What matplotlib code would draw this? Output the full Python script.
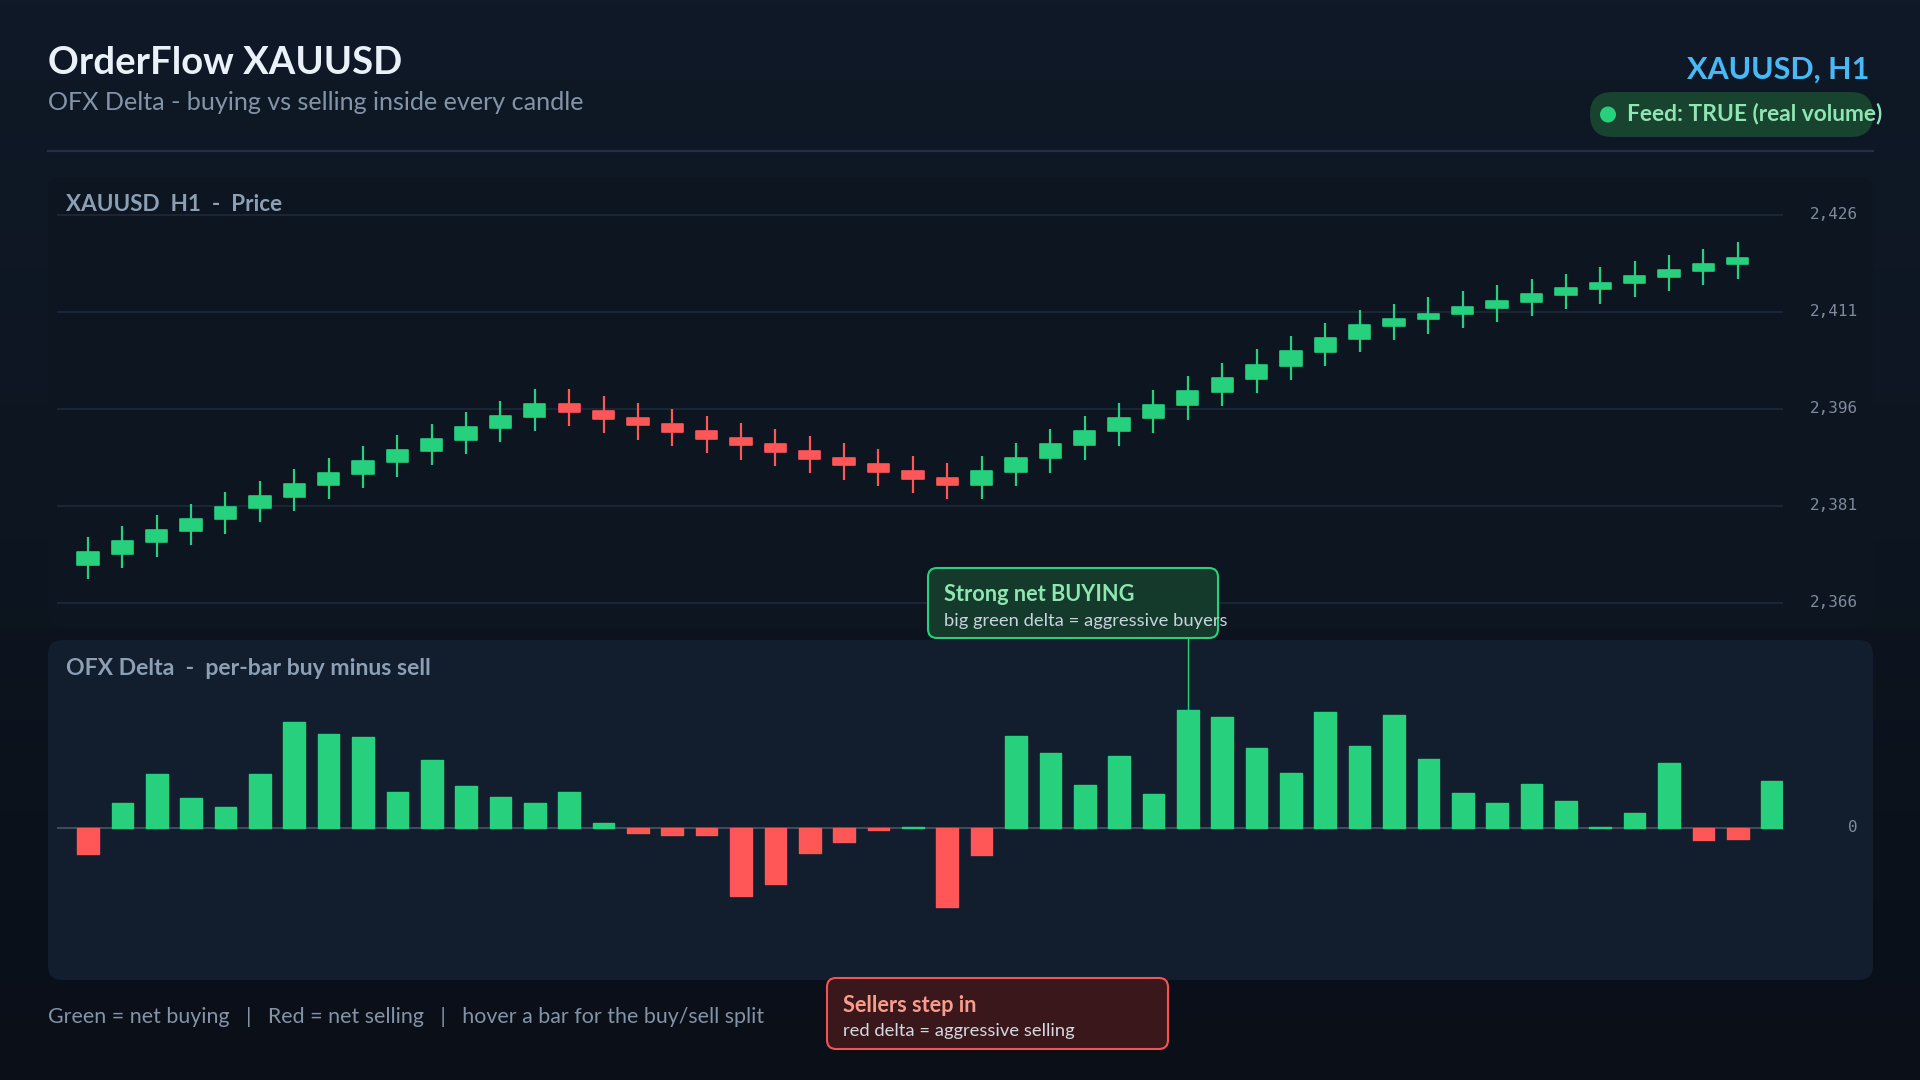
import matplotlib
matplotlib.use('Agg')
import matplotlib.pyplot as plt
from matplotlib.patches import FancyBboxPatch, Circle
from matplotlib.colors import LinearSegmentedColormap
from matplotlib.transforms import ScaledTranslation
import numpy as np

W, H = 1920, 1080
plt.rcParams['font.family'] = ['Lato', 'DejaVu Sans']

# ---------------- data ----------------
symbol = 'XAUUSD'
timeframe = 'H1'
opens = [2372.0, 2373.7, 2375.5, 2377.2, 2379.0, 2380.7, 2382.4, 2384.3, 2386.0, 2387.9,
         2389.6, 2391.3, 2393.1, 2394.8, 2396.8, 2395.7, 2394.7, 2393.7, 2392.6, 2391.6,
         2390.6, 2389.6, 2388.5, 2387.6, 2386.5, 2385.4, 2384.3, 2386.3, 2388.5, 2390.5,
         2392.6, 2394.6, 2396.7, 2398.7, 2400.7, 2402.7, 2404.9, 2406.9, 2408.9, 2409.9,
         2410.8, 2411.7, 2412.6, 2413.7, 2414.6, 2415.6, 2416.5, 2417.4, 2418.4]
closes = [2373.9, 2375.6, 2377.4, 2379.1, 2380.9, 2382.6, 2384.5, 2386.2, 2388.0, 2389.7,
          2391.4, 2393.3, 2395.0, 2396.8, 2395.6, 2394.5, 2393.6, 2392.5, 2391.4, 2390.5,
          2389.4, 2388.3, 2387.4, 2386.3, 2385.2, 2384.3, 2386.5, 2388.5, 2390.6, 2392.6,
          2394.7, 2396.7, 2398.8, 2400.8, 2402.8, 2405.0, 2407.0, 2409.0, 2409.9, 2410.8,
          2411.8, 2412.7, 2413.8, 2414.7, 2415.6, 2416.6, 2417.5, 2418.4, 2419.4]
highs = [2376.2, 2377.9, 2379.7, 2381.4, 2383.2, 2384.9, 2386.8, 2388.5, 2390.3, 2392.0,
         2393.7, 2395.6, 2397.3, 2399.1, 2399.1, 2398.0, 2397.0, 2396.0, 2395.0, 2393.9,
         2393.0, 2391.9, 2390.8, 2389.9, 2388.8, 2387.7, 2388.8, 2390.8, 2392.9, 2394.9,
         2397.0, 2399.0, 2401.1, 2403.1, 2405.3, 2407.3, 2409.3, 2411.4, 2412.3, 2413.4,
         2414.3, 2415.2, 2416.2, 2417.0, 2418.0, 2418.9, 2419.9, 2420.8, 2421.8]
lows = [2369.8, 2371.5, 2373.2, 2375.0, 2376.7, 2378.5, 2380.2, 2382.1, 2383.8, 2385.5,
        2387.4, 2389.1, 2390.9, 2392.6, 2393.4, 2392.3, 2391.3, 2390.3, 2389.2, 2388.2,
        2387.2, 2386.2, 2385.1, 2384.1, 2383.0, 2382.1, 2382.1, 2384.1, 2386.2, 2388.2,
        2390.3, 2392.3, 2394.4, 2396.5, 2398.6, 2400.6, 2402.7, 2404.8, 2406.7, 2407.7,
        2408.6, 2409.5, 2410.5, 2411.5, 2412.3, 2413.3, 2414.3, 2415.2, 2416.2]
delta = [-260, 250, 540, 300, 210, 540, 1060, 940, 910, 360,
         680, 420, 310, 250, 360, 50, -50, -70, -70, -680,
         -560, -250, -140, -20, 10, -790, -270, 920, 750, 430,
         720, 340, 1180, 1110, 800, 550, 1160, 820, 1130, 690,
         350, 250, 440, 270, 10, 150, 650, -120, -110, 470]
price_ticks = [2366, 2381, 2396, 2411, 2426]
price_tick_labels = ['2,366', '2,381', '2,396', '2,411', '2,426']
delta_ticks = [0]
delta_tick_labels = ['0']
annot_buy_index = 32

GREEN = '#26d07c'
RED = '#ff5757'

# ---------------- figure ----------------
fig = plt.figure(figsize=(19.2, 10.8), dpi=100)


def rect(x0, y0, x1, y1):
    return [x0 / W, 1 - y1 / H, (x1 - x0) / W, (y1 - y0) / H]


bg = fig.add_axes([0, 0, 1, 1], zorder=0)
bg.set_xlim(0, W)
bg.set_ylim(H, 0)
bg.axis('off')
cmap = LinearSegmentedColormap.from_list('bgc', ['#0f1927', '#0d1520', '#0a0f18'])
grad = np.linspace(0, 1, 256)[:, None]
bg.imshow(grad, extent=[0, W, H, 0], cmap=cmap, aspect='auto', zorder=0)

# cards
bg.add_patch(FancyBboxPatch((48, 177), 1825, 450, boxstyle='round,pad=0,rounding_size=14',
                            fc='#0c1520', ec='none', zorder=1))
bg.add_patch(FancyBboxPatch((48, 640), 1825, 340, boxstyle='round,pad=0,rounding_size=14',
                            fc='#121d2d', ec='none', zorder=1))
bg.plot([48, 1873], [150.7, 150.7], color='#233143', lw=1.6, zorder=2)

# ---------------- price axes ----------------
xs = np.arange(len(opens))
o = np.array(opens)
c = np.array(closes)
ccols = [GREEN if cc >= oo else RED for oo, cc in zip(o, c)]

ax_p = fig.add_axes(rect(57, 200, 1783, 620), zorder=2)
ax_p.set_facecolor('none')
ax_p.set_xlim(-0.902, 49.317)
ax_p.set_ylim(2363.42, 2428.37)
ax_p.vlines(xs, lows, highs, colors=ccols, lw=1.6, zorder=3)
ax_p.bar(xs, np.abs(c - o), bottom=np.minimum(o, c), width=0.62, color=ccols,
         edgecolor=ccols, linewidth=1.2, joinstyle='round', zorder=4)
ax_p.set_yticks(price_ticks)
ax_p.set_yticklabels(price_tick_labels)
ax_p.grid(axis='y', color='#1f2a3a', lw=1.2)
ax_p.set_axisbelow(True)
ax_p.set_xticks([])
for s in ax_p.spines.values():
    s.set_visible(False)
ax_p.yaxis.tick_right()
ax_p.tick_params(axis='y', length=0, pad=54, labelsize=11.5, labelcolor='#7f8b9c')
lift = ScaledTranslation(0, 1.5 / 72, fig.dpi_scale_trans)
for lab in ax_p.get_yticklabels():
    lab.set_ha('right')
    lab.set_family('DejaVu Sans Mono')
    lab.set_transform(lab.get_transform() + lift)

# ---------------- delta axes ----------------
xd = np.arange(len(delta))
dcols = [GREEN if d >= 0 else RED for d in delta]
ax_d = fig.add_axes(rect(57, 690, 1783, 965), zorder=2)
ax_d.set_facecolor('none')
ax_d.set_xlim(-0.902, 49.317)
ax_d.set_ylim(-1370, 1380)
ax_d.axhline(0, color='#4a5566', lw=1.2, zorder=2)
ax_d.bar(xd, delta, width=0.63, color=dcols, edgecolor=dcols, linewidth=1.0,
         joinstyle='round', zorder=3)
ax_d.set_yticks(delta_ticks)
ax_d.set_yticklabels(delta_tick_labels)
ax_d.set_xticks([])
for s in ax_d.spines.values():
    s.set_visible(False)
ax_d.yaxis.tick_right()
ax_d.tick_params(axis='y', length=0, pad=54, labelsize=11.5, labelcolor='#7f8b9c')
for lab in ax_d.get_yticklabels():
    lab.set_ha('right')
    lab.set_family('DejaVu Sans Mono')
    lab.set_transform(lab.get_transform() + lift)

# connector from strongest buying bar to annotation box
y_box_bottom = ax_d.transData.inverted().transform((0, H - 638))[1]
ax_d.plot([annot_buy_index, annot_buy_index], [delta[annot_buy_index], y_box_bottom],
          color=GREEN, lw=1.0, clip_on=False, zorder=5)

# ---------------- foreground text ----------------
fg = fig.add_axes([0, 0, 1, 1], zorder=10)
fg.set_xlim(0, W)
fg.set_ylim(H, 0)
fg.axis('off')
fg.patch.set_alpha(0)

fg.text(48, 74, f'OrderFlow {symbol}', fontsize=27.5, weight='bold', color='#eaf1f8', va='baseline')
fg.text(48, 110, 'OFX Delta - buying vs selling inside every candle', fontsize=18.1,
        color='#8494a8', va='baseline')
fg.text(1869, 79, f'{symbol}, {timeframe}', fontsize=22, weight='bold', color='#48b9f7',
        ha='right', va='baseline')
fg.add_patch(FancyBboxPatch((1590, 92), 283, 45, boxstyle='round,pad=0,rounding_size=22',
                            fc='#17432f', ec='none'))
fg.add_patch(Circle((1608, 114.5), 8, fc=GREEN, ec='none'))
fg.text(1627, 120, 'Feed: TRUE (real volume)', fontsize=16.4, weight='bold', color='#8fe6b2',
        va='baseline')

fg.text(65.5, 211, f'{symbol}  {timeframe}  -  Price', fontsize=16.2, weight='bold',
        color='#8d9fb4', va='baseline')
fg.text(66, 675, 'OFX Delta  -  per-bar buy minus sell', fontsize=16.6, weight='bold',
        color='#8d9fb4', va='baseline')

fg.text(48, 1023, 'Green = net buying   |   Red = net selling   |   hover a bar for the buy/sell split',
        fontsize=15.4, color='#8494a8', va='baseline')

# annotation: buying
fg.add_patch(FancyBboxPatch((928, 568), 290, 70, boxstyle='round,pad=0,rounding_size=9',
                            fc='#143a2b', ec=GREEN, lw=1.5))
fg.text(944, 601, 'Strong net BUYING', fontsize=15.7, weight='bold', color='#8ee6b0', va='baseline')
fg.text(944, 626, 'big green delta = aggressive buyers', fontsize=13.2, color='#c9d3de',
        va='baseline')

# annotation: selling
fg.add_patch(FancyBboxPatch((827, 978), 341, 71, boxstyle='round,pad=0,rounding_size=9',
                            fc='#3a171b', ec='#f05555', lw=1.5))
fg.text(843, 1012, 'Sellers step in', fontsize=15.6, weight='bold', color='#fa9c8c', va='baseline')
fg.text(843, 1036, 'red delta = aggressive selling', fontsize=13.2, color='#d3d9e1', va='baseline')

fig.savefig('out.png', dpi=100, facecolor='#0f1927')
